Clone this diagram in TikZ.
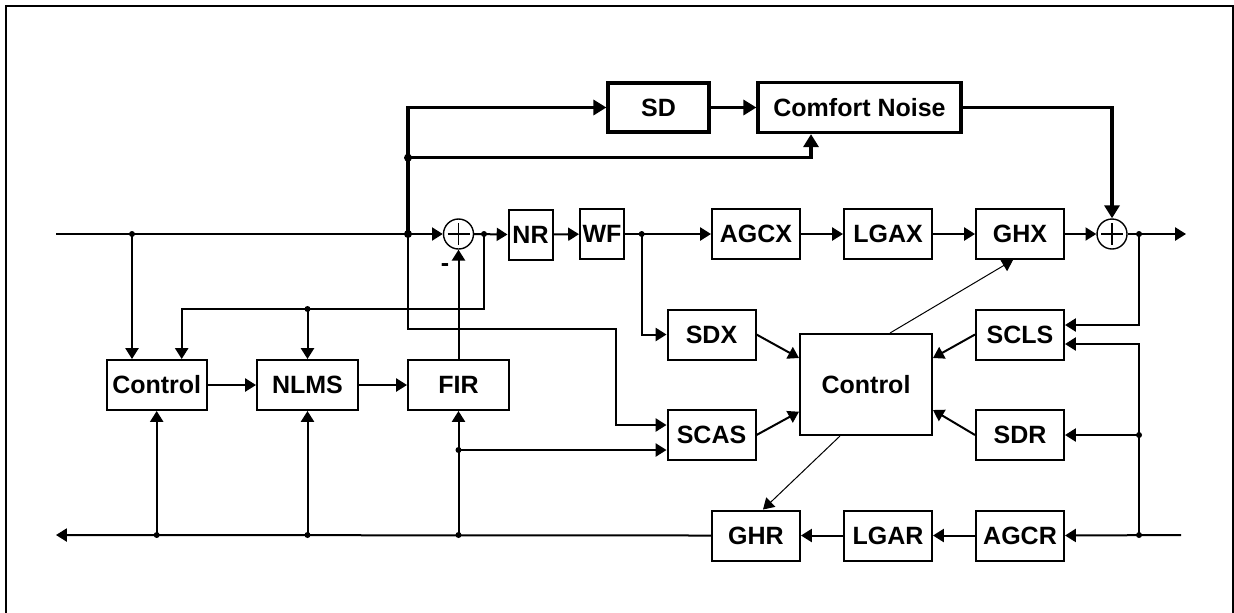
\documentclass[tikz,border=0pt]{standalone}
\usepackage{fontspec}
\setmainfont{Liberation Sans}
\usetikzlibrary{arrows.meta,calc}
\begin{document}
\begin{tikzpicture}[x=0.5pt,y=-0.5pt,
  blk/.style={draw,line width=1pt,inner sep=0pt,minimum width=44pt,minimum height=25pt,
    font=\bfseries\fontsize{12.5}{14}\selectfont},
  tblk/.style={blk,line width=1.6pt},
  ln/.style={line width=1pt},
  arr/.style={ln,-{Triangle[length=5.4pt,width=6.5pt]}},
  tarr/.style={line width=1.6pt,-{Triangle[length=6.5pt,width=7.5pt]}},
  thinarr/.style={line width=0.5pt,-{Triangle[length=5.4pt,width=6.5pt]}},
  sumnode/.style={circle,draw,line width=0.7pt,minimum size=15pt,inner sep=0pt},
  dotn/.style={circle,fill,inner sep=0pt,minimum size=3pt},
  bdot/.style={circle,fill,inner sep=0pt,minimum size=4pt}]
\clip (0,0) rectangle (1234,612);
% frame
\draw[line width=1pt] (5.5,640) -- (5.5,5.5) -- (1232.5,5.5) -- (1232.5,640);

% boxes
\node[blk,minimum width=22pt] (NR) at (530.5,234.5) {NR};
\node[blk,minimum width=22pt] (WF) at (602,234) {WF};
\node[blk] (AGCX) at (756,234) {AGCX};
\node[blk] (LGAX) at (888,234) {LGAX};
\node[blk] (GHX) at (1020,234) {GHX};
\node[tblk,minimum width=50.5pt,minimum height=24.5pt] (SD) at (658.5,107.5) {SD};
\node[tblk,minimum width=101.5pt] (CN) at (859.5,107.5) {Comfort Noise};
\node[blk,minimum width=50pt] (C1) at (156.7,385) {Control};
\node[blk,minimum width=50.5pt] (NLMS) at (307.5,385) {NLMS};
\node[blk,minimum width=50.5pt] (FIR) at (458.5,385) {FIR};
\node[blk] (SDX) at (711.5,334.5) {SDX};
\node[blk] (SCAS) at (711.5,435) {SCAS};
\node[blk,minimum width=66pt,minimum height=50.5pt] (C2) at (866,384.5) {Control};
\node[blk] (SCLS) at (1020,334.5) {SCLS};
\node[blk] (SDR) at (1020,435) {SDR};
\node[blk] (AGCR) at (1020,535.5) {AGCR};
\node[blk] (LGAR) at (888,535.5) {LGAR};
\node[blk] (GHR) at (756,535.5) {GHR};

% summing junctions
\node[sumnode] (S1) at (458.5,234) {};
\node[sumnode] (S2) at (1112,234) {};
\foreach \s in {S1,S2}{
  \draw[line width=0.7pt] ($(\s.center)+(-11,0)$) -- ($(\s.center)+(11,0)$)
    ($(\s.center)+(0,-11)$) -- ($(\s.center)+(0,11)$);
}
\node[font=\bfseries\fontsize{12.5}{14}\selectfont] (minus) at (445,268) {-};

% coordinates
\coordinate (in) at (56,234);
\node[dotn] (A) at (132,234) {};
\node[bdot] (B) at (408,234) {};
\node[dotn] (C) at (484,234) {};
\node[dotn] (D) at (641.7,234) {};
\node[dotn] (E) at (1139,234) {};
\coordinate (out) at (1186,234);
\node[bdot] (T2) at (408,157.7) {};
\node[dotn] (F) at (307.5,309) {};
\node[dotn] (G) at (458.5,450) {};
\node[dotn] (H) at (1139,435) {};
\node[dotn] (I) at (1139,535) {};
\coordinate (inR) at (1181,535);
\coordinate (outL) at (56,535);
\node[dotn] (P1) at (156.7,535) {};
\node[dotn] (P2) at (307.5,535) {};
\node[dotn] (P3) at (458.5,535) {};

% main transmit path
\draw[arr] (in) -- (S1.west);
\draw[arr] (S1.east) -- (NR.west);
\draw[arr] (NR) -- (WF);
\draw[arr] (WF.east) -- (AGCX.west);
\draw[arr] (AGCX) -- (LGAX);
\draw[arr] (LGAX) -- (GHX);
\draw[arr] (GHX.east) -- (S2.west);
\draw[arr] (S2.east) -- (out);

% top thick path
\draw[tarr] (B.center) |- (SD.west);
\draw[tarr] (SD) -- (CN);
\draw[tarr] (T2.center) -| ([xshift=-24.25pt]CN.south);
\draw[tarr] (CN.east) -| (S2.north);

% left echo canceller
\draw[arr] (A.center) -- (A |- C1.north);
\draw[ln] (C.center) |- (F.center);
\draw[arr] (F.center) -| ([xshift=12.5pt]C1.north);
\draw[arr] (F.center) -- (NLMS.north);
\draw[arr] (C1) -- (NLMS);
\draw[arr] (NLMS) -- (FIR);
\draw[arr] (FIR.north) -- (S1.south);
\draw[arr] (B.center) |- (616,328.7) |- ([yshift=5pt]SCAS.west);

% receive path
\draw[arr] (inR) -- (AGCR.east);
\draw[arr] (AGCR) -- (LGAR);
\draw[arr] (LGAR) -- (GHR);
\draw[arr] (GHR.west) -- (outL);
\draw[arr] (P1.center) -- (C1.south);
\draw[arr] (P2.center) -- (NLMS.south);
\draw[arr] (P3.center) -- (FIR.south);
\draw[arr] (G.center) -- ([yshift=-7.5pt]SCAS.west);

% detectors
\draw[arr] (D.center) |- (SDX.west);
\draw[arr] (SDX.east) -- ([yshift=13.25pt]C2.west);
\draw[arr] (SCAS.east) -- ([yshift=-13.6pt]C2.west);
\draw[arr] (SCLS.west) -- ([yshift=13.25pt]C2.east);
\draw[arr] (SDR.west) -- ([yshift=-12.75pt]C2.east);
\draw[thinarr] ([xshift=12pt]C2.north) -- ([xshift=-3.5pt]GHX.south);
\draw[thinarr] ([xshift=-13pt]C2.south) -- ([xshift=3.5pt]GHR.north);

% right side
\draw[arr] (E.center) |- ([yshift=4.75pt]SCLS.east);
\draw[arr] (I.center) |- ([yshift=-4.75pt]SCLS.east);
\draw[arr] (H.center) -- (SDR.east);
\end{tikzpicture}
\end{document}
